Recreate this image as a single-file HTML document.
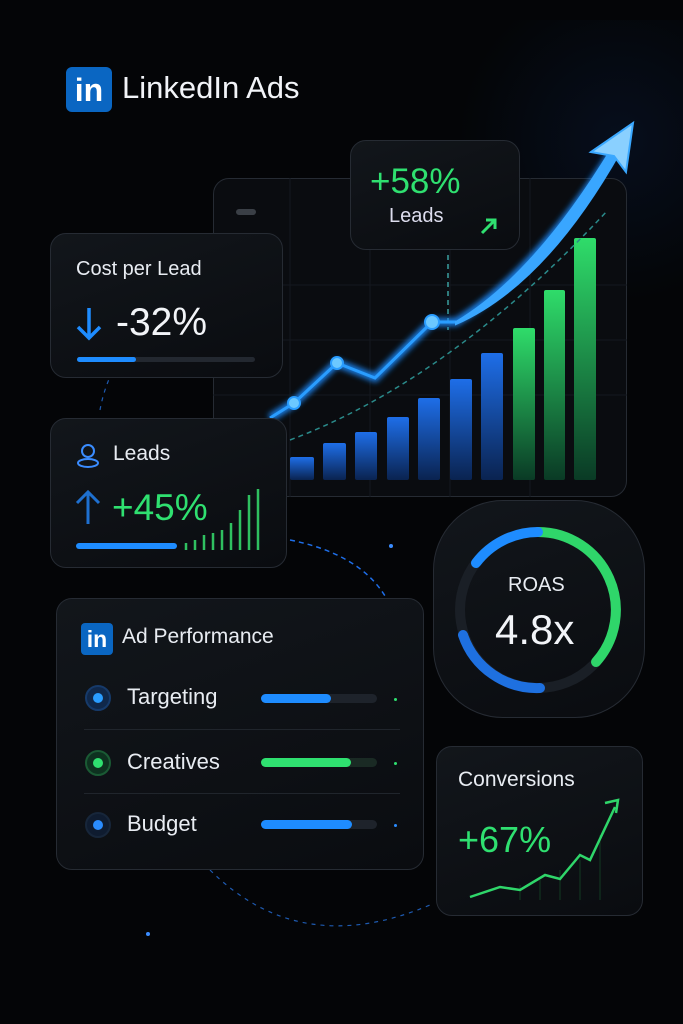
<!DOCTYPE html>
<html><head><meta charset="utf-8"><style>
*{margin:0;padding:0;box-sizing:border-box}
body{width:683px;height:1024px;background:#040507;position:relative;overflow:hidden;font-family:"Liberation Sans",sans-serif;color:#e8ecf2}
.card{position:absolute;border:1px solid #262b33;border-radius:16px;background:linear-gradient(160deg,#12161b,#0a0c10)}
.t{position:absolute;white-space:nowrap}
</style></head><body>
<div style="position:absolute;left:450px;top:20px;width:260px;height:300px;background:radial-gradient(circle at 65% 40%,rgba(20,70,160,.14),transparent 65%)"></div>
<div class="t" style="left:66px;top:67px;width:46px;height:45px;background:#0a66c2;border-radius:6px;color:#fff;font-weight:bold;font-size:32px;text-align:center;line-height:46px">in</div>
<div class="t" style="left:122px;top:70px;font-size:31px;color:#f2f4f8">LinkedIn Ads</div>

<div class="card" style="left:213px;top:178px;width:414px;height:319px;background:#0a0c10"></div>
<div style="position:absolute;left:236px;top:209px;width:20px;height:6px;border-radius:3px;background:#3a3f46"></div>
<svg width="683" height="1024" style="position:absolute;left:0;top:0">
<defs>
<linearGradient id="gb" x1="0" y1="0" x2="0" y2="1"><stop offset="0" stop-color="#1e6ee8"/><stop offset="1" stop-color="#0a2350"/></linearGradient>
<linearGradient id="gg" x1="0" y1="0" x2="0" y2="1"><stop offset="0" stop-color="#2fdc6a"/><stop offset="1" stop-color="#0a3a25"/></linearGradient>
<filter id="gl"><feGaussianBlur stdDeviation="3"/></filter>
</defs>
<g stroke="#14181f" stroke-width="1">
<line x1="213" y1="285" x2="627" y2="285"/><line x1="213" y1="340" x2="627" y2="340"/><line x1="213" y1="395" x2="627" y2="395"/>
<line x1="290" y1="178" x2="290" y2="497"/><line x1="370" y1="178" x2="370" y2="497"/><line x1="450" y1="178" x2="450" y2="497"/><line x1="530" y1="178" x2="530" y2="497"/>
</g>
<g fill="url(#gb)">
<rect x="290" y="457" width="24" height="23" rx="2"/><rect x="323" y="443" width="23" height="37" rx="2"/>
<rect x="355" y="432" width="22" height="48" rx="2"/><rect x="387" y="417" width="22" height="63" rx="2"/>
<rect x="418" y="398" width="22" height="82" rx="2"/><rect x="450" y="379" width="22" height="101" rx="2"/>
<rect x="481" y="353" width="22" height="127" rx="2"/>
</g>
<g fill="url(#gg)"><rect x="513" y="328" width="22" height="152" rx="2"/><rect x="544" y="290" width="21" height="190" rx="2"/><rect x="574" y="238" width="22" height="242" rx="2"/></g>
<path d="M290 440 Q450 380 608 210" fill="none" stroke="#2a8a8a" stroke-width="1.5" stroke-dasharray="5 4"/>
<line x1="448" y1="255" x2="448" y2="330" stroke="#3aa0a0" stroke-width="1.5" stroke-dasharray="5 4"/>
<path d="M100 410 A150 150 0 0 1 215 290" fill="none" stroke="#1e5ab0" stroke-width="1.2" stroke-dasharray="4 5"/>
<path d="M290 540 Q390 560 400 640" fill="none" stroke="#1e6ee8" stroke-width="1.5" stroke-dasharray="5 4"/>
<path d="M210 870 Q300 960 430 905" fill="none" stroke="#1e5ab0" stroke-width="1.2" stroke-dasharray="4 5"/>
<g filter="url(#gl)" opacity=".9"><path d="M270 418 L294 403 L337 363 L375 378 L432 322 L456 322 Q540 270 620 140" fill="none" stroke="#1e8cff" stroke-width="8"/></g>
<path d="M270 418 L294 403 L337 363 L375 378 L432 322 L456 322" fill="none" stroke="#2a9dff" stroke-width="3"/>
<path d="M456 322 Q535 275 612 148 L620 152 Q545 285 456 324 Z" fill="#39a6ff" stroke="#39a6ff" stroke-width="2"/>
<path d="M591 152 L633 123 L626 172 L614 156 Z" fill="#8ad0ff" stroke="#3aa8ff" stroke-width="2"/>
<g fill="#6cc8ff" stroke="#2a9dff" stroke-width="2"><circle cx="294" cy="403" r="6"/><circle cx="337" cy="363" r="6"/><circle cx="432" cy="322" r="7"/></g>
<circle cx="400" cy="642" r="3" fill="#3a8cff"/><circle cx="391" cy="546" r="2" fill="#3a8cff"/><circle cx="603" cy="530" r="2" fill="#3a8cff"/><circle cx="148" cy="934" r="2" fill="#3a8cff"/>
</svg>

<div class="card" style="left:350px;top:140px;width:170px;height:110px"></div>
<div class="t" style="left:370px;top:162px;font-size:35px;color:#2fe070">+58%</div>
<div class="t" style="left:389px;top:205px;font-size:20px;color:#dde">Leads</div>
<svg width="20" height="20" style="position:absolute;left:479px;top:216px"><path d="M3 17 L15 5 M7 4 L16 4 L16 13" fill="none" stroke="#2fe070" stroke-width="3"/></svg>

<div class="card" style="left:50px;top:233px;width:233px;height:145px"></div>
<div class="t" style="left:76px;top:258px;font-size:20px">Cost per Lead</div>
<svg width="30" height="40" style="position:absolute;left:74px;top:305px"><path d="M15 3 L15 33 M4 22 L15 33 L26 22" fill="none" stroke="#1e8cff" stroke-width="3.5"/></svg>
<div class="t" style="left:116px;top:301px;font-size:39px;color:#f2f4f8">-32%</div>
<div style="position:absolute;left:77px;top:357px;width:178px;height:5px;border-radius:3px;background:#232830"></div>
<div style="position:absolute;left:77px;top:357px;width:59px;height:5px;border-radius:3px;background:#1e8cff"></div>

<div class="card" style="left:50px;top:418px;width:237px;height:150px"></div>
<svg width="26" height="28" style="position:absolute;left:75px;top:442px"><circle cx="13" cy="9" r="6" fill="none" stroke="#3a8cff" stroke-width="2"/><ellipse cx="13" cy="21" rx="10" ry="4" fill="none" stroke="#3a8cff" stroke-width="2"/></svg>
<div class="t" style="left:113px;top:442px;font-size:21px">Leads</div>
<svg width="30" height="40" style="position:absolute;left:73px;top:488px"><path d="M15 36 L15 4 M4 15 L15 4 L26 15" fill="none" stroke="#1e70d0" stroke-width="3"/></svg>
<div class="t" style="left:112px;top:487px;font-size:37px;color:#2fe070">+45%</div>
<div style="position:absolute;left:76px;top:543px;width:101px;height:6px;border-radius:3px;background:#1e8cff"></div>
<svg width="80" height="70" style="position:absolute;left:182px;top:485px"><g stroke="#2fc060" stroke-width="2.5"><line x1="4" y1="65" x2="4" y2="58"/><line x1="13" y1="65" x2="13" y2="55"/><line x1="22" y1="65" x2="22" y2="50"/><line x1="31" y1="65" x2="31" y2="48"/><line x1="40" y1="65" x2="40" y2="45"/><line x1="49" y1="65" x2="49" y2="38"/><line x1="58" y1="65" x2="58" y2="25"/><line x1="67" y1="65" x2="67" y2="10"/><line x1="76" y1="65" x2="76" y2="4"/></g></svg>

<div class="card" style="left:56px;top:598px;width:368px;height:272px"></div>
<div class="t" style="left:81px;top:623px;width:32px;height:32px;background:#0a66c2;border-radius:4px;color:#fff;font-weight:bold;font-size:23px;text-align:center;line-height:32px">in</div>
<div class="t" style="left:122px;top:625px;font-size:21px">Ad Performance</div>
<div style="position:absolute;left:85px;top:685px;width:26px;height:26px;border-radius:50%;background:#10284a;border:2px solid #163a6a"></div>
<div style="position:absolute;left:93px;top:693px;width:10px;height:10px;border-radius:50%;background:#2a9dff"></div>
<div class="t" style="left:127px;top:684px;font-size:22px">Targeting</div>
<div style="position:absolute;left:261px;top:694px;width:116px;height:9px;border-radius:5px;background:#1e232b"></div>
<div style="position:absolute;left:261px;top:694px;width:70px;height:9px;border-radius:5px;background:#1e8cff"></div>
<div style="position:absolute;left:394px;top:698px;width:3px;height:3px;border-radius:50%;background:#2fe070"></div>
<div style="position:absolute;left:84px;top:729px;height:1px;background:#20252c;width:316px"></div>
<div style="position:absolute;left:85px;top:750px;width:26px;height:26px;border-radius:50%;background:#0e3220;border:2px solid #1a5a34"></div>
<div style="position:absolute;left:93px;top:758px;width:10px;height:10px;border-radius:50%;background:#2fe070"></div>
<div class="t" style="left:127px;top:749px;font-size:22px">Creatives</div>
<div style="position:absolute;left:261px;top:758px;width:116px;height:9px;border-radius:5px;background:#1a2a24"></div>
<div style="position:absolute;left:261px;top:758px;width:90px;height:9px;border-radius:5px;background:#2fe070"></div>
<div style="position:absolute;left:394px;top:762px;width:3px;height:3px;border-radius:50%;background:#2fe070"></div>
<div style="position:absolute;left:84px;top:793px;height:1px;background:#20252c;width:316px"></div>
<div style="position:absolute;left:85px;top:812px;width:26px;height:26px;border-radius:50%;background:#0f1c30;border:2px solid #17263a"></div>
<div style="position:absolute;left:93px;top:820px;width:10px;height:10px;border-radius:50%;background:#2a8cff"></div>
<div class="t" style="left:127px;top:811px;font-size:22px">Budget</div>
<div style="position:absolute;left:261px;top:820px;width:116px;height:9px;border-radius:5px;background:#1e232b"></div>
<div style="position:absolute;left:261px;top:820px;width:91px;height:9px;border-radius:5px;background:#1e8cff"></div>
<div style="position:absolute;left:394px;top:824px;width:3px;height:3px;border-radius:50%;background:#2a8cff"></div>

<div class="card" style="left:433px;top:500px;width:212px;height:218px;border-radius:70px"></div>
<svg width="683" height="1024" style="position:absolute;left:0;top:0">
<circle cx="538" cy="610" r="78" fill="none" stroke="#1a1f26" stroke-width="10"/>
<path d="M538 532 A78 78 0 0 1 596 662" fill="none" stroke="#2fd66a" stroke-width="10" stroke-linecap="round"/>
<path d="M540 688 A78 78 0 0 1 463 635" fill="none" stroke="#1e70e0" stroke-width="10" stroke-linecap="round"/>
<path d="M476 563 A78 78 0 0 1 538 532" fill="none" stroke="#1e8cff" stroke-width="10" stroke-linecap="round"/>
</svg>
<div class="t" style="left:508px;top:574px;font-size:20px">ROAS</div>
<div class="t" style="left:495px;top:606px;font-size:42px;color:#f2f4f8">4.8x</div>

<div class="card" style="left:436px;top:746px;width:207px;height:170px"></div>
<div class="t" style="left:458px;top:768px;font-size:21px">Conversions</div>
<div class="t" style="left:458px;top:819px;font-size:36px;color:#2fe070">+67%</div>
<svg width="180" height="110" style="position:absolute;left:460px;top:795px">
<g stroke="#123a22" stroke-width="1"><line x1="60" y1="90" x2="60" y2="105"/><line x1="80" y1="85" x2="80" y2="105"/><line x1="100" y1="75" x2="100" y2="105"/><line x1="120" y1="65" x2="120" y2="105"/><line x1="140" y1="40" x2="140" y2="105"/></g>
<path d="M10 102 L40 92 L60 95 L85 80 L100 84 L120 60 L130 65 L155 12" fill="none" stroke="#2fd66a" stroke-width="2.5"/>
<path d="M145 8 L158 5 L156 18" fill="none" stroke="#2fd66a" stroke-width="2.5"/>
</svg>
</body></html>
